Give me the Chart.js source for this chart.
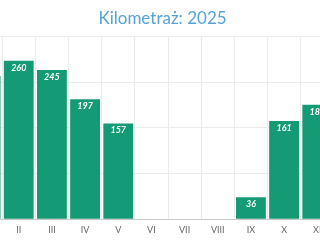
<!DOCTYPE html>
<html>
<head>
<meta charset="utf-8">
<script src="https://cdn.jsdelivr.net/npm/chart.js@4/dist/chart.umd.min.js"></script>
<style>
  html, body { margin: 0; padding: 0; width: 320px; height: 240px; overflow: hidden; background: #fff; }
  #wrap { position: absolute; left: -42px; top: 0; width: 409px; height: 240px; }
</style>
</head>
<body>
<div id="wrap"><canvas id="c"></canvas></div>
<script>
const titleText = 'Kilometraż: 2025';
const categories = ['I', 'II', 'III', 'IV', 'V', 'VI', 'VII', 'VIII', 'IX', 'X', 'XI', 'XII'];
const kilometers = [235, 260, 245, 197, 157, 0, 0, 0, 36, 161, 188, null];
const yTicks = [0, 75, 150, 225, 300];

const valueLabels = {
  id: 'valueLabels',
  afterDatasetsDraw(chart) {
    const ctx = chart.ctx;
    const meta = chart.getDatasetMeta(0);
    ctx.save();
    ctx.fillStyle = '#ffffff';
    ctx.font = 'italic bold 9px Lato';
    ctx.textAlign = 'center';
    ctx.textBaseline = 'middle';
    meta.data.forEach((bar, i) => {
      const v = kilometers[i];
      if (!v) return;
      ctx.fillText(String(v), bar.x, bar.y + 7);
    });
    ctx.restore();
  }
};

new Chart(document.getElementById('c'), {
  type: 'bar',
  data: {
    labels: categories,
    datasets: [{
      data: kilometers,
      backgroundColor: '#149a74',
      borderWidth: 0,
      categoryPercentage: 1.0,
      barPercentage: 0.9
    }]
  },
  options: {
    responsive: true,
    maintainAspectRatio: false,
    animation: false,
    layout: { padding: 0 },
    plugins: {
      legend: { display: false },
      tooltip: { enabled: false },
      title: {
        display: true,
        text: titleText,
        color: '#55a3d6',
        font: { family: 'Lato', size: 17, weight: 'normal' },
        padding: { top: 8, bottom: 8 }
      }
    },
    scales: {
      x: {
        grid: { color: '#ebebeb', drawTicks: false, offset: true },
        border: { display: true, color: '#c8c8c8' },
        ticks: { color: '#666666', font: { family: 'Lato', size: 9 }, padding: 5 }
      },
      y: {
        min: 0,
        max: 300,
        afterBuildTicks(scale) { scale.ticks = yTicks.map(v => ({ value: v })); },
        afterFit(scale) { scale.width = 11; },
        grid: { color: '#ebebeb', drawTicks: false },
        border: { display: false },
        ticks: { display: false }
      }
    }
  },
  plugins: [valueLabels]
});
</script>
</body>
</html>
